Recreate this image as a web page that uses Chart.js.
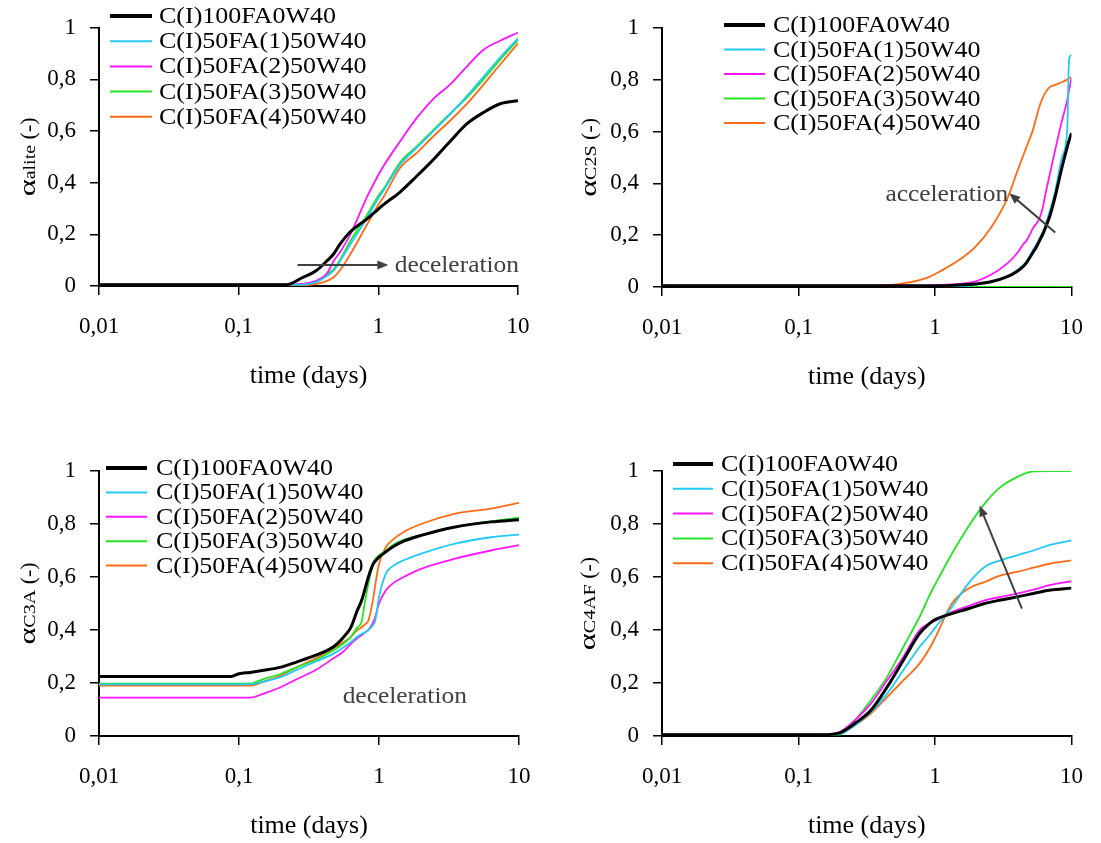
<!DOCTYPE html>
<html>
<head>
<meta charset="utf-8">
<script src="https://cdn.jsdelivr.net/npm/chart.js@4.4.1/dist/chart.umd.min.js"></script>
<style>
  html, body { margin: 0; padding: 0; background: #fff; }
  #wrap { position: relative; width: 1101px; height: 843px; }
  canvas { position: absolute; }
</style>
</head>
<body>
<div id="wrap">
  <canvas id="alite" width="550" height="421" style="left:0;top:0"></canvas>
  <canvas id="c2s" width="551" height="421" style="left:550px;top:0"></canvas>
  <canvas id="c3a" width="550" height="422" style="left:0;top:421px"></canvas>
  <canvas id="c4af" width="551" height="422" style="left:550px;top:421px"></canvas>
</div>
<script>
// series names (same five mixes in every panel)
const seriesLabels = ['C(I)100FA0W40', 'C(I)50FA(1)50W40', 'C(I)50FA(2)50W40', 'C(I)50FA(3)50W40', 'C(I)50FA(4)50W40'];
const xTickValues = [0.01, 0.1, 1, 10];
const xTickLabels = ['0,01', '0,1', '1', '10'];
const yTickLabels = ['0', '0,2', '0,4', '0,6', '0,8', '1'];

// alite (time in days)
const aliteTime = [0.01, 0.22, 0.28, 0.36, 0.43, 0.48, 0.53, 0.63, 0.83, 1, 1.09, 1.43, 1.88, 2.48, 3.26, 4.3, 5.66, 7.45, 10];
const aliteRef = [0.005, 0.005, 0.03, 0.06, 0.098, 0.125, 0.161, 0.21, 0.26, 0.298, 0.315, 0.364, 0.425, 0.49, 0.56, 0.628, 0.672, 0.706, 0.718];
const aliteFA1 = [0.005, 0.005, 0.005, 0.015, 0.04, 0.06, 0.095, 0.161, 0.263, 0.34, 0.37, 0.47, 0.535, 0.6, 0.665, 0.735, 0.81, 0.885, 0.959];
const aliteFA2 = [0.005, 0.005, 0.008, 0.02, 0.05, 0.098, 0.13, 0.199, 0.345, 0.43, 0.465, 0.56, 0.65, 0.725, 0.78, 0.85, 0.915, 0.95, 0.982];
const aliteFA3 = [0.005, 0.005, 0.006, 0.02, 0.045, 0.066, 0.1, 0.174, 0.275, 0.35, 0.376, 0.478, 0.54, 0.605, 0.668, 0.73, 0.8, 0.877, 0.953];
const aliteFA4 = [0.003, 0.003, 0.003, 0.008, 0.02, 0.034, 0.06, 0.123, 0.238, 0.315, 0.345, 0.457, 0.515, 0.58, 0.64, 0.705, 0.78, 0.858, 0.94];

// C2S
const c2sTime = [0.01, 0.3, 0.5, 0.86, 1.13, 1.49, 1.96, 2.57, 3.39, 3.99, 4.45, 4.7, 5.25, 5.54, 5.85, 6.18, 6.35, 6.9, 7.6, 8.5, 9.3, 9.6, 10];
const c2sRef = [0.005, 0.005, 0.005, 0.005, 0.005, 0.008, 0.012, 0.02, 0.04, 0.06, 0.08, 0.095, 0.135, 0.155, 0.18, 0.205, 0.22, 0.27, 0.35, 0.46, 0.54, 0.565, 0.594];
const c2sFA1 = [0.003, 0.003, 0.003, 0.003, 0.003, 0.003, 0.008, 0.02, 0.042, 0.065, 0.085, 0.1, 0.145, 0.165, 0.19, 0.215, 0.23, 0.29, 0.37, 0.5, 0.606, 0.88, 0.895];
const c2sFA2 = [0.005, 0.005, 0.005, 0.005, 0.008, 0.012, 0.021, 0.047, 0.091, 0.13, 0.166, 0.18, 0.229, 0.245, 0.267, 0.31, 0.342, 0.43, 0.53, 0.64, 0.72, 0.76, 0.805];
const c2sFA3 = [0, 0, 0, 0, 0, 0, 0, 0, 0, 0, 0, 0, 0, 0, 0, 0, 0, 0, 0, 0, 0, 0, 0];
const c2sFA4 = [0.005, 0.005, 0.009, 0.034, 0.065, 0.103, 0.153, 0.229, 0.342, 0.443, 0.51, 0.543, 0.61, 0.657, 0.7, 0.732, 0.745, 0.77, 0.78, 0.79, 0.8, 0.805, 0.81];

// C3A
const c3aTime = [0.01, 0.088, 0.1, 0.12, 0.15, 0.2, 0.26, 0.35, 0.47, 0.56, 0.63, 0.7, 0.75, 0.79, 0.84, 0.91, 0.94, 1, 1.12, 1.25, 1.5, 2, 3.5, 6.3, 10];
const c3aRef = [0.225, 0.225, 0.235, 0.24, 0.248, 0.26, 0.28, 0.304, 0.336, 0.374, 0.41, 0.474, 0.51, 0.55, 0.6, 0.65, 0.66, 0.675, 0.695, 0.713, 0.735, 0.757, 0.789, 0.808, 0.816];
const c3aFA1 = [0.195, 0.195, 0.195, 0.195, 0.205, 0.223, 0.25, 0.28, 0.31, 0.335, 0.355, 0.375, 0.385, 0.39, 0.4, 0.42, 0.436, 0.524, 0.613, 0.64, 0.663, 0.688, 0.726, 0.75, 0.76];
const c3aFA2 = [0.145, 0.145, 0.145, 0.145, 0.16, 0.185, 0.215, 0.248, 0.292, 0.32, 0.348, 0.37, 0.38, 0.39, 0.4, 0.43, 0.449, 0.5, 0.55, 0.575, 0.6, 0.631, 0.669, 0.7, 0.72];
const c3aFA3 = [0.198, 0.198, 0.198, 0.198, 0.215, 0.235, 0.26, 0.286, 0.323, 0.35, 0.374, 0.41, 0.43, 0.5, 0.575, 0.655, 0.668, 0.682, 0.7, 0.72, 0.74, 0.757, 0.789, 0.81, 0.824];
const c3aFA4 = [0.19, 0.19, 0.19, 0.19, 0.205, 0.229, 0.26, 0.292, 0.33, 0.355, 0.374, 0.4, 0.41, 0.42, 0.436, 0.52, 0.57, 0.65, 0.713, 0.74, 0.77, 0.8, 0.839, 0.858, 0.88];

// C4AF
const c4afTime = [0.01, 0.15, 0.2, 0.258, 0.339, 0.446, 0.586, 0.77, 0.91, 1.01, 1.33, 1.75, 2.31, 3.03, 3.99, 5.25, 6.9, 10];
const c4afRef = [0.005, 0.005, 0.012, 0.047, 0.097, 0.185, 0.286, 0.386, 0.424, 0.44, 0.462, 0.48, 0.5, 0.513, 0.525, 0.538, 0.55, 0.558];
const c4afFA1 = [0.005, 0.005, 0.008, 0.04, 0.09, 0.16, 0.248, 0.336, 0.38, 0.411, 0.487, 0.575, 0.638, 0.663, 0.682, 0.7, 0.72, 0.738];
const c4afFA2 = [0.005, 0.005, 0.015, 0.059, 0.122, 0.21, 0.298, 0.399, 0.425, 0.436, 0.468, 0.49, 0.512, 0.525, 0.537, 0.552, 0.569, 0.584];
const c4afFA3 = [0.005, 0.005, 0.005, 0.059, 0.135, 0.223, 0.336, 0.449, 0.53, 0.575, 0.688, 0.789, 0.877, 0.94, 0.977, 0.999, 1, 1];
const c4afFA4 = [0.005, 0.005, 0.01, 0.04, 0.085, 0.147, 0.21, 0.273, 0.33, 0.374, 0.5, 0.556, 0.581, 0.606, 0.619, 0.635, 0.65, 0.663];

const colors = ['#000000', '#22c8f6', '#ff14ff', '#22e622', '#ff6a14'];
const widths = [3, 1.8, 1.8, 1.8, 1.8];
const FONT = "'Liberation Serif', 'Times New Roman', serif";
const NOTE = '#404040';

const panels = [
  {
    id: 'alite', sub: 'alite', time: aliteTime,
    values: [aliteRef, aliteFA1, aliteFA2, aliteFA3, aliteFA4],
    area: { left: 99, right: 518, top: 23, bottom: 286 }, titleX: 35, xTitlePad: 29,
    legend: { x: 110, y: 16, gap: 25.2, len: 42, text: 7 },
    notes: [
      { arrow: [[0.264, 0.081], [1.18, 0.081]] },
      { text: 'deceleration', at: [1.31, 0.08] }
    ]
  },
  {
    id: 'c2s', sub: 'C2S', time: c2sTime,
    values: [c2sRef, c2sFA1, c2sFA2, c2sFA3, c2sFA4],
    area: { left: 112, right: 533, top: 22, bottom: 287 }, titleX: 46, xTitlePad: 28,
    legend: { x: 174, y: 25, gap: 24.5, len: 41, text: 8 },
    notes: [
      { arrow: [[7.6, 0.21], [3.5, 0.362]] },
      { text: 'acceleration', at: [0.433, 0.358] }
    ]
  },
  {
    id: 'c3a', sub: 'C3A', time: c3aTime,
    values: [c3aRef, c3aFA1, c3aFA2, c3aFA3, c3aFA4],
    area: { left: 99, right: 519, top: 50, bottom: 315 }, titleX: 35, xTitlePad: 1,
    legend: { x: 106, y: 47, gap: 24.4, len: 41, text: 9 },
    notes: [
      { text: 'deceleration', at: [0.55, 0.147] }
    ]
  },
  {
    id: 'c4af', sub: 'C4AF', time: c4afTime,
    values: [c4afRef, c4afFA1, c4afFA2, c4afFA3, c4afFA4],
    area: { left: 112, right: 533, top: 50, bottom: 315 }, titleX: 45, xTitlePad: 1,
    legend: { x: 123, y: 43, gap: 24.8, len: 40, text: 8, clip: 150 },
    notes: [
      { arrow: [[4.33, 0.481], [2.12, 0.87]] }
    ]
  }
];

// draws text stretched horizontally by sx, returns advance
function stretchText(ctx, text, x, y, sx) {
  ctx.save();
  ctx.scale(sx, 1);
  ctx.fillText(text, x / sx, y);
  ctx.restore();
  return ctx.measureText(text).width * sx;
}

// legend, y title (with subscript) and the arrows / notes
const overlay = {
  id: 'overlay',
  afterDraw(chart, args, opts) {
    const p = opts.panel;
    const { ctx, chartArea } = chart;
    const xs = chart.scales.x, ys = chart.scales.y;
    ctx.save();

    // y axis title
    ctx.save();
    ctx.translate(p.titleX, (chartArea.top + chartArea.bottom) / 2);
    ctx.rotate(-Math.PI / 2);
    ctx.fillStyle = '#000';
    ctx.textBaseline = 'alphabetic';
    const parts = [['\u03b1', '24px ' + FONT, 1.35], [p.sub, '16px ' + FONT, 1.25], [' (-)', '22px ' + FONT, 1]];
    let total = 0;
    parts.forEach(pt => { ctx.font = pt[1]; total += ctx.measureText(pt[0]).width * pt[2]; });
    let cx = -total / 2;
    parts.forEach(pt => { ctx.font = pt[1]; cx += stretchText(ctx, pt[0], cx, 0, pt[2]); });
    ctx.restore();

    // legend
    const lg = p.legend;
    ctx.save();
    if (lg.clip) { ctx.beginPath(); ctx.rect(0, 0, chart.width, lg.clip); ctx.clip(); }
    ctx.font = '23px ' + FONT;
    ctx.textBaseline = 'middle';
    chart.data.datasets.forEach((ds, i) => {
      const y = lg.y + i * lg.gap;
      ctx.strokeStyle = ds.borderColor;
      ctx.lineWidth = i === 0 ? 4 : 2;
      ctx.beginPath(); ctx.moveTo(lg.x, y); ctx.lineTo(lg.x + lg.len, y); ctx.stroke();
      ctx.fillStyle = '#000';
      stretchText(ctx, ds.label, lg.x + lg.len + lg.text, y + 1, 1.13);
    });
    ctx.restore();

    // notes
    p.notes.forEach(n => {
      if (n.arrow) {
        const x0 = xs.getPixelForValue(n.arrow[0][0]), y0 = ys.getPixelForValue(n.arrow[0][1]);
        const x1 = xs.getPixelForValue(n.arrow[1][0]), y1 = ys.getPixelForValue(n.arrow[1][1]);
        const a = Math.atan2(y1 - y0, x1 - x0);
        ctx.strokeStyle = NOTE; ctx.fillStyle = NOTE; ctx.lineWidth = 2;
        ctx.beginPath(); ctx.moveTo(x0, y0);
        ctx.lineTo(x1 - 8 * Math.cos(a), y1 - 8 * Math.sin(a)); ctx.stroke();
        ctx.beginPath();
        ctx.moveTo(x1, y1);
        ctx.lineTo(x1 - 11 * Math.cos(a) + 4.5 * Math.sin(a), y1 - 11 * Math.sin(a) - 4.5 * Math.cos(a));
        ctx.lineTo(x1 - 11 * Math.cos(a) - 4.5 * Math.sin(a), y1 - 11 * Math.sin(a) + 4.5 * Math.cos(a));
        ctx.closePath(); ctx.fill();
      } else {
        ctx.font = '24px ' + FONT;
        ctx.fillStyle = NOTE;
        ctx.textBaseline = 'middle';
        stretchText(ctx, n.text, xs.getPixelForValue(n.at[0]), ys.getPixelForValue(n.at[1]), 1.06);
      }
    });
    ctx.restore();
  }
};

Chart.defaults.font.family = FONT;
Chart.defaults.color = '#000';

panels.forEach(p => {
  const canvas = document.getElementById(p.id);
  const W = canvas.width, H = canvas.height;
  new Chart(canvas.getContext('2d'), {
    type: 'line',
    data: {
      datasets: p.values.map((vals, i) => ({
        label: seriesLabels[i],
        data: p.time.map((t, j) => ({ x: t, y: vals[j] })),
        borderColor: colors[i],
        backgroundColor: colors[i],
        borderWidth: widths[i],
        pointRadius: 0,
        cubicInterpolationMode: 'monotone',
        fill: false
      }))
    },
    options: {
      responsive: false,
      animation: false,
      layout: { padding: { left: 0, top: p.area.top, right: W - p.area.right, bottom: 0 } },
      plugins: {
        legend: { display: false },
        tooltip: { enabled: false },
        overlay: { panel: p }
      },
      scales: {
        x: {
          type: 'logarithmic',
          min: 0.01, max: 10,
          afterBuildTicks: s => { s.ticks = xTickValues.map(v => ({ value: v })); },
          afterFit: s => { s.height = H - p.area.bottom; },
          ticks: {
            font: { size: 23 }, padding: 18, maxRotation: 0, autoSkip: false,
            callback: v => xTickLabels[xTickValues.indexOf(v)]
          },
          grid: { drawOnChartArea: false, drawTicks: true, tickLength: 9, color: '#000', lineWidth: 1.5 },
          border: { display: true, color: '#000', width: 2 },
          title: { display: true, text: 'time (days)', font: { size: 26 }, padding: { top: 0, bottom: p.xTitlePad } }
        },
        y: {
          min: 0, max: 1,
          afterFit: s => { s.width = p.area.left; },
          ticks: {
            stepSize: 0.2, font: { size: 23 }, padding: 14,
            callback: v => yTickLabels[Math.round(v * 5)]
          },
          grid: { drawOnChartArea: false, drawTicks: true, tickLength: 9, color: '#000', lineWidth: 1.5 },
          border: { display: true, color: '#000', width: 2 }
        }
      }
    },
    plugins: [overlay]
  });
});
</script>
</body>
</html>
